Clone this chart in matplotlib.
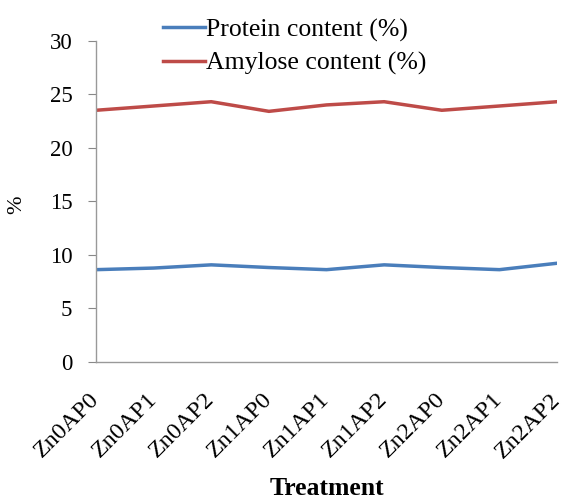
import matplotlib
matplotlib.use("Agg")
import matplotlib.pyplot as plt
import matplotlib.transforms as mtransforms

treatments = ["Zn0AP0", "Zn0AP1", "Zn0AP2", "Zn1AP0", "Zn1AP1", "Zn1AP2", "Zn2AP0", "Zn2AP1", "Zn2AP2"]
protein = [8.6, 8.75, 9.05, 8.8, 8.6, 9.05, 8.8, 8.6, 9.2]
amylose = [23.5, 23.9, 24.3, 23.4, 24.0, 24.3, 23.5, 23.9, 24.3]
yticks = [0, 5, 10, 15, 20, 25, 30]

plt.rcParams['font.family'] = ['Liberation Serif', 'DejaVu Serif']

fig = plt.figure(figsize=(5.63, 5.03), dpi=100)
ax = fig.add_axes([0.1705, 0.281, 0.819, 0.638])
x = list(range(len(treatments)))
ax.plot(x, protein, color="#4A7EBB", lw=2.5, label="Protein content (%)")
ax.plot(x, amylose, color="#BE4B48", lw=2.5, label="Amylose content (%)")

ax.set_xlim(0, len(treatments) - 1)
ax.set_ylim(0, 30)
ax.set_yticks(yticks)
ax.set_yticklabels([str(v) for v in yticks], fontsize=16.5)
ax.set_xticks(x)
ax.set_xticklabels(treatments, rotation=45, ha="right", va="center", rotation_mode="anchor", fontsize=17.5)
offset = mtransforms.ScaledTranslation(7 / 72, 0, fig.dpi_scale_trans)
for lab in ax.get_xticklabels():
    lab.set_transform(lab.get_transform() + offset)
ax.tick_params(axis="x", length=0, pad=25)
ax.tick_params(axis="y", length=6, color="#888888", pad=11)
for s in ["top", "right"]:
    ax.spines[s].set_visible(False)
for s in ["left", "bottom"]:
    ax.spines[s].set_color("#999999")
    ax.spines[s].set_linewidth(1)

ax.set_ylabel("%", fontsize=16)
ax.yaxis.set_label_coords(-0.152, 0.49)
ax.set_xlabel("Treatment", fontsize=18.5, fontweight="bold", labelpad=11)

leg = ax.legend(loc="upper left", bbox_to_anchor=(0.145, 1.07), frameon=False, fontsize=18.5,
                handlelength=1.63, handletextpad=0.05, labelspacing=0.4, borderaxespad=0,
                borderpad=0)

fig.savefig("out.png", dpi=100)
